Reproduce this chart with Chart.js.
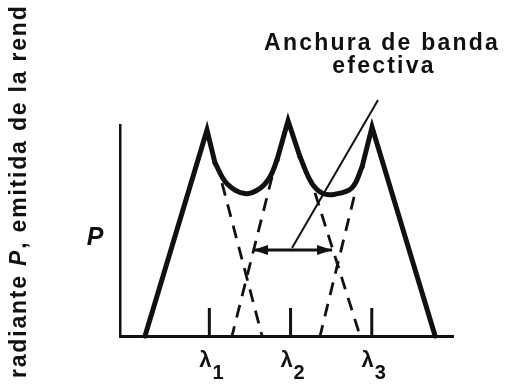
<!DOCTYPE html>
<html><head><meta charset="utf-8">
<script src="https://cdn.jsdelivr.net/npm/chart.js@4.4.1/dist/chart.umd.min.js"></script>
<style>html,body{margin:0;padding:0;background:#fff;overflow:hidden}canvas{display:block}</style>
</head><body>
<canvas id="c" width="508" height="385"></canvas>
<script>
// ---- data (x: relative wavelength, slit positions at 1,2,3; y: relative radiant power) ----
const lambdaPositions = [1, 2, 3];
const lambdaSymbols = ['λ', 'λ', 'λ'];
const lambdaSubscripts = ['1', '2', '3'];
const tickMarkHeight = 0.133;

const tent1X = [0.208, 0.971, 1.070];
const tent1Y = [0, 0.976, 0.820];
const valley1X = [1.070, 1.218, 1.439, 1.624, 1.747, 1.833];
const valley1Y = [0.820, 0.722, 0.675, 0.700, 0.754, 0.834];
const tent2X = [1.833, 1.969, 2.117];
const tent2Y = [0.834, 1.020, 0.848];
const valley2X = [2.117, 2.265, 2.400, 2.548, 2.757, 2.880];
const valley2Y = [0.848, 0.722, 0.675, 0.672, 0.703, 0.801];
const tent3X = [2.880, 3.003, 3.780];
const tent3Y = [0.801, 0.990, 0];

const dash1X = [1.156, 1.649]; const dash1Y = [0.725, 0];
const dash2X = [1.772, 1.279]; const dash2Y = [0.754, 0];
const dash3X = [2.301, 2.856]; const dash3Y = [0.678, 0];
const dash4X = [2.782, 2.363]; const dash4Y = [0.659, 0];

const arrowX = [1.538, 2.511]; const arrowY = [0.408, 0.408];
const leaderX = [2.018, 3.077]; const leaderY = [0.417, 1.118];

const annotationLines = ['Anchura de banda', 'efectiva'];
const yLabelParts = ['radiante ', 'P', ', emitida de la rend'];
const yLabelItalic = [false, true, false];
const axisSymbol = 'P';

// ---- helpers ----
const pts = (xs, ys) => xs.map((x, i) => ({x: x, y: ys[i]}));
const tickPts = [];
lambdaPositions.forEach(p => { tickPts.push({x: p, y: 0}, {x: p, y: tickMarkHeight}, {x: p, y: null}); });

const INK = '#111';
const FONT = '"Liberation Sans", Arial, sans-serif';

function solid(data, tension) {
  return {data: data, borderColor: INK, borderWidth: 5, tension: tension, pointRadius: 0,
          borderCapStyle: 'round', borderJoinStyle: 'miter', clip: false, fill: false};
}
function dashed(data) {
  return {data: data, borderColor: INK, borderWidth: 2.8, borderDash: [13, 9], tension: 0,
          pointRadius: 0, clip: false, fill: false, borderCapStyle: 'butt'};
}

const textPlugin = {
  id: 'texts',
  afterDatasetsDraw(chart) {
    const ctx = chart.ctx;
    const xs = chart.scales.x, ys = chart.scales.y;
    ctx.save();
    ctx.fillStyle = INK;
    // arrowheads
    const ay = ys.getPixelForValue(arrowY[0]);
    const ax0 = xs.getPixelForValue(arrowX[0]);
    const ax1 = xs.getPixelForValue(arrowX[1]);
    [[ax0, 1], [ax1, -1]].forEach(([tx, dir]) => {
      ctx.beginPath();
      ctx.moveTo(tx, ay);
      ctx.lineTo(tx + dir * 15, ay - 5);
      ctx.lineTo(tx + dir * 15, ay + 5);
      ctx.closePath();
      ctx.fill();
    });
    // lambda tick labels
    ctx.textBaseline = 'alphabetic';
    ctx.letterSpacing = '0px';
    lambdaPositions.forEach((p, i) => {
      const px = xs.getPixelForValue(p);
      ctx.font = 'bold 22px ' + FONT;
      const w1 = ctx.measureText(lambdaSymbols[i]).width;
      ctx.font = 'bold 20px ' + FONT;
      const w2 = ctx.measureText(lambdaSubscripts[i]).width;
      const start = px + 2 - (w1 + w2 + 1) / 2;
      ctx.textAlign = 'left';
      ctx.font = 'bold 22px ' + FONT;
      ctx.fillText(lambdaSymbols[i], start, 367);
      ctx.font = 'bold 20px ' + FONT;
      ctx.fillText(lambdaSubscripts[i], start + w1 + 1, 379);
    });
    // P axis symbol
    ctx.font = 'italic bold 25px ' + FONT;
    ctx.textAlign = 'center';
    ctx.fillText(axisSymbol, 95, 245);
    // annotation
    ctx.font = 'bold 23px ' + FONT;
    ctx.letterSpacing = '2.2px';
    ctx.fillText(annotationLines[0], 382, 50);
    ctx.fillText(annotationLines[1], 384, 73);
    // rotated y label
    ctx.letterSpacing = '1.8px';
    ctx.translate(26, 378);
    ctx.rotate(-Math.PI / 2);
    ctx.textAlign = 'left';
    let x = 0;
    yLabelParts.forEach((t, i) => {
      ctx.font = (yLabelItalic[i] ? 'italic ' : '') + 'bold 23px ' + FONT;
      ctx.fillText(t, x, 0);
      x += ctx.measureText(t).width;
    });
    ctx.restore();
  }
};

new Chart(document.getElementById('c'), {
  type: 'line',
  data: {
    datasets: [
      solid(pts(tent1X, tent1Y), 0),
      solid(pts(valley1X, valley1Y), 0.4),
      solid(pts(tent2X, tent2Y), 0),
      solid(pts(valley2X, valley2Y), 0.4),
      solid(pts(tent3X, tent3Y), 0),
      dashed(pts(dash1X, dash1Y)),
      dashed(pts(dash2X, dash2Y)),
      dashed(pts(dash3X, dash3Y)),
      dashed(pts(dash4X, dash4Y)),
      {data: tickPts, borderColor: INK, borderWidth: 3, pointRadius: 0, spanGaps: false, clip: false},
      {data: pts(arrowX, arrowY), borderColor: INK, borderWidth: 3, pointRadius: 0, clip: false},
      {data: pts(leaderX, leaderY), borderColor: INK, borderWidth: 2, pointRadius: 0, clip: false}
    ]
  },
  options: {
    responsive: false,
    animation: false,
    events: [],
    layout: {padding: {left: 120, top: 125, right: 55, bottom: 49}},
    plugins: {legend: {display: false}, tooltip: {enabled: false}, title: {display: false}},
    scales: {
      x: {type: 'linear', min: -0.1, max: 4.0,
          ticks: {display: false}, grid: {display: false, drawTicks: false},
          border: {display: true, color: INK, width: 3}},
      y: {type: 'linear', min: 0, max: 1,
          ticks: {display: false}, grid: {display: false, drawTicks: false},
          border: {display: true, color: INK, width: 2.5}}
    }
  },
  plugins: [textPlugin]
});
</script>
</body></html>
